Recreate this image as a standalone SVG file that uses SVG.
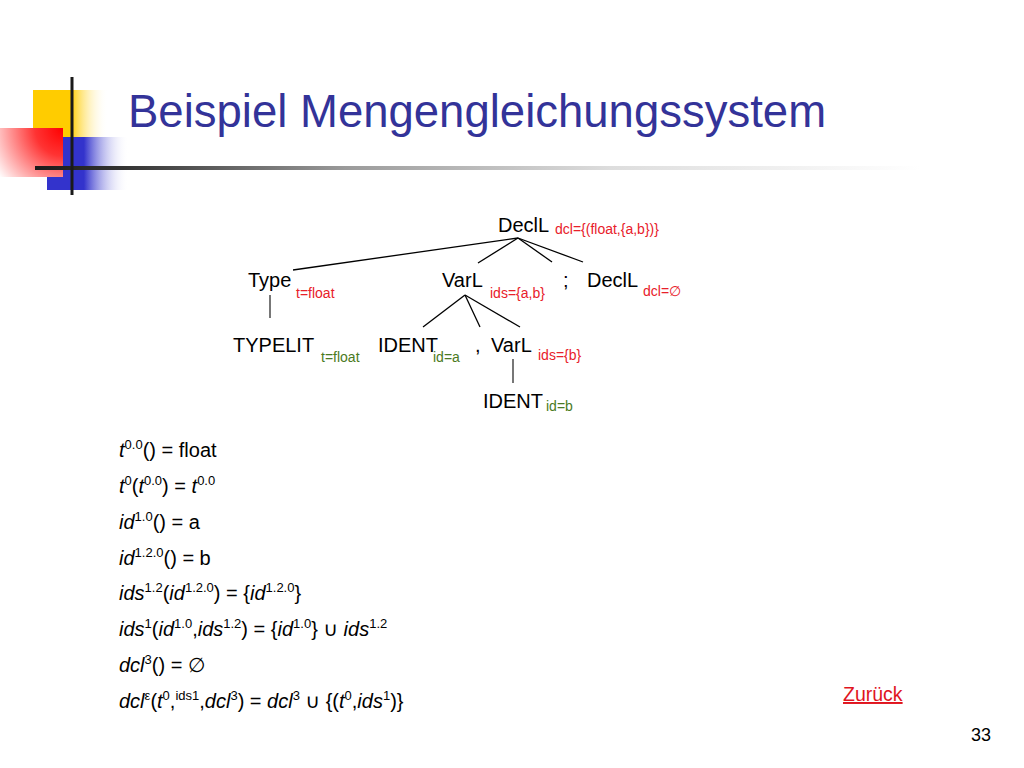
<svg xmlns="http://www.w3.org/2000/svg" width="1024" height="768" viewBox="0 0 1024 768">
<style>
text{font-family:"Liberation Sans",Arial,"DejaVu Sans",sans-serif;}
.title{font-size:45.5px;fill:#333399;}
.node{font-size:20px;fill:#000;}
.red{font-size:14px;fill:#e8202a;}
.grn{font-size:14px;fill:#4a7a22;}
.eq{font-size:20px;fill:#000;}
.i{font-style:italic;}
.sup{font-size:13px;}
.edge{stroke:#000;stroke-width:1.3;fill:none;}
.edge2{stroke:#555;stroke-width:1.6;fill:none;}
</style>
<defs>
<linearGradient id="gy" x1="0" y1="0" x2="1" y2="0">
<stop offset="0" stop-color="#ffcc00"/><stop offset="0.5" stop-color="#ffcc00"/><stop offset="1" stop-color="#ffffff" stop-opacity="0"/>
</linearGradient>
<linearGradient id="gb" x1="0" y1="0" x2="1" y2="0">
<stop offset="0" stop-color="#3333cc"/><stop offset="0.45" stop-color="#3333cc"/><stop offset="1" stop-color="#ffffff" stop-opacity="0"/>
</linearGradient>
<radialGradient id="gr" cx="63" cy="128" r="80" gradientUnits="userSpaceOnUse">
<stop offset="0" stop-color="#ff0000"/><stop offset="0.35" stop-color="#ff3333"/><stop offset="1" stop-color="#ffffff"/>
</radialGradient>
<linearGradient id="gl" x1="35" y1="0" x2="920" y2="0" gradientUnits="userSpaceOnUse">
<stop offset="0" stop-color="#1a1a1a"/><stop offset="0.1" stop-color="#333333"/><stop offset="0.35" stop-color="#9a9a9a"/><stop offset="0.65" stop-color="#dddddd"/><stop offset="1" stop-color="#ffffff"/>
</linearGradient>
</defs>
<rect width="1024" height="768" fill="#ffffff"/>
<g id="logo">
<rect x="33" y="90" width="75" height="47" fill="url(#gy)"/>
<rect x="47" y="137" width="82" height="53" fill="url(#gb)"/>
<rect x="0" y="128" width="63" height="49" fill="url(#gr)"/>
<rect x="35" y="166" width="885" height="4" fill="url(#gl)"/>
<rect x="70.5" y="77" width="3" height="118" fill="#1a1a1a"/>
</g>
<text class="title" x="128" y="127">Beispiel Mengengleichungssystem</text>
<g id="connectors">
<line class="edge" x1="518" y1="238" x2="293" y2="270"/>
<line class="edge" x1="518" y1="238" x2="478" y2="263"/>
<line class="edge" x1="518" y1="238" x2="552" y2="262"/>
<line class="edge" x1="518" y1="238" x2="583" y2="262"/>
<line class="edge2" x1="270" y1="295" x2="270" y2="318"/>
<line class="edge" x1="465" y1="295" x2="423" y2="327"/>
<line class="edge" x1="465" y1="295" x2="480" y2="327"/>
<line class="edge" x1="465" y1="295" x2="520" y2="327"/>
<line class="edge2" x1="513" y1="359" x2="513" y2="383"/>
</g>
<g id="n-decl">
<text class="node" x="498" y="232">DeclL</text>
<text class="red" x="555" y="234">dcl={(float,{a,b})}</text>
</g>
<g id="n-type">
<text class="node" x="248" y="287">Type</text>
<text class="red" x="296" y="298">t=float</text>
</g>
<g id="n-varl">
<text class="node" x="442" y="287">VarL</text>
<text class="red" x="490" y="298">ids={a,b}</text>
</g>
<g id="n-semi">
<text class="node" x="563" y="287">;</text>
</g>
<g id="n-decl2">
<text class="node" x="587" y="287">DeclL</text>
<text class="red" x="643" y="296">dcl=∅</text>
</g>
<g id="n-typelit">
<text class="node" x="233" y="352">TYPELIT</text>
<text class="grn" x="321" y="362">t=float</text>
</g>
<g id="n-ident">
<text class="node" x="378" y="352">IDENT</text>
<text class="grn" x="433" y="362">id=a</text>
</g>
<g id="n-comma">
<text class="node" x="475" y="352">,</text>
</g>
<g id="n-varl2">
<text class="node" x="491" y="352">VarL</text>
<text class="red" x="538" y="360">ids={b}</text>
</g>
<g id="n-ident2">
<text class="node" x="483" y="408">IDENT</text>
<text class="grn" x="546" y="411">id=b</text>
</g>
<g id="equations">
<text class="eq" x="119" y="457"><tspan class="i">t</tspan><tspan class="sup" dy="-8">0.0</tspan><tspan dy="8">() = float</tspan></text>
<text class="eq" x="119" y="493"><tspan class="i">t</tspan><tspan class="sup" dy="-8">0</tspan><tspan dy="8">(</tspan><tspan class="i">t</tspan><tspan class="sup" dy="-8">0.0</tspan><tspan dy="8">) = </tspan><tspan class="i">t</tspan><tspan class="sup" dy="-8">0.0</tspan></text>
<text class="eq" x="119" y="529"><tspan class="i">id</tspan><tspan class="sup" dy="-8">1.0</tspan><tspan dy="8">() = a</tspan></text>
<text class="eq" x="119" y="565"><tspan class="i">id</tspan><tspan class="sup" dy="-8">1.2.0</tspan><tspan dy="8">() = b</tspan></text>
<text class="eq" x="119" y="600"><tspan class="i">ids</tspan><tspan class="sup" dy="-8">1.2</tspan><tspan dy="8">(</tspan><tspan class="i">id</tspan><tspan class="sup" dy="-8">1.2.0</tspan><tspan dy="8">) = {</tspan><tspan class="i">id</tspan><tspan class="sup" dy="-8">1.2.0</tspan><tspan dy="8">}</tspan></text>
<text class="eq" x="119" y="636"><tspan class="i">ids</tspan><tspan class="sup" dy="-8">1</tspan><tspan dy="8">(</tspan><tspan class="i">id</tspan><tspan class="sup" dy="-8">1.0</tspan><tspan dy="8">,</tspan><tspan class="i">ids</tspan><tspan class="sup" dy="-8">1.2</tspan><tspan dy="8">) = {</tspan><tspan class="i">id</tspan><tspan class="sup" dy="-8">1.0</tspan><tspan dy="8">} ∪ </tspan><tspan class="i">ids</tspan><tspan class="sup" dy="-8">1.2</tspan></text>
<text class="eq" x="119" y="672"><tspan class="i">dcl</tspan><tspan class="sup" dy="-8">3</tspan><tspan dy="8">() = ∅</tspan></text>
<text class="eq" x="119" y="708"><tspan class="i">dcl</tspan><tspan class="sup" dy="-8" font-size="9">ε</tspan><tspan dy="8">(</tspan><tspan class="i">t</tspan><tspan class="sup" dy="-8">0</tspan><tspan dy="8">,</tspan><tspan class="sup" dy="-8">ids1</tspan><tspan dy="8">,</tspan><tspan class="i">dcl</tspan><tspan class="sup" dy="-8">3</tspan><tspan dy="8">) = </tspan><tspan class="i">dcl</tspan><tspan class="sup" dy="-8">3</tspan><tspan dy="8"> ∪ {(</tspan><tspan class="i">t</tspan><tspan class="sup" dy="-8">0</tspan><tspan dy="8">,</tspan><tspan class="i">ids</tspan><tspan class="sup" dy="-8">1</tspan><tspan dy="8">)}</tspan></text>
</g>
<text x="843" y="701" font-size="19.5" fill="#e0141e" text-decoration="underline" style="font-family:'Liberation Sans',Arial,sans-serif">Zurück</text>
<text x="971" y="741" font-size="18" fill="#000">33</text>
</svg>
